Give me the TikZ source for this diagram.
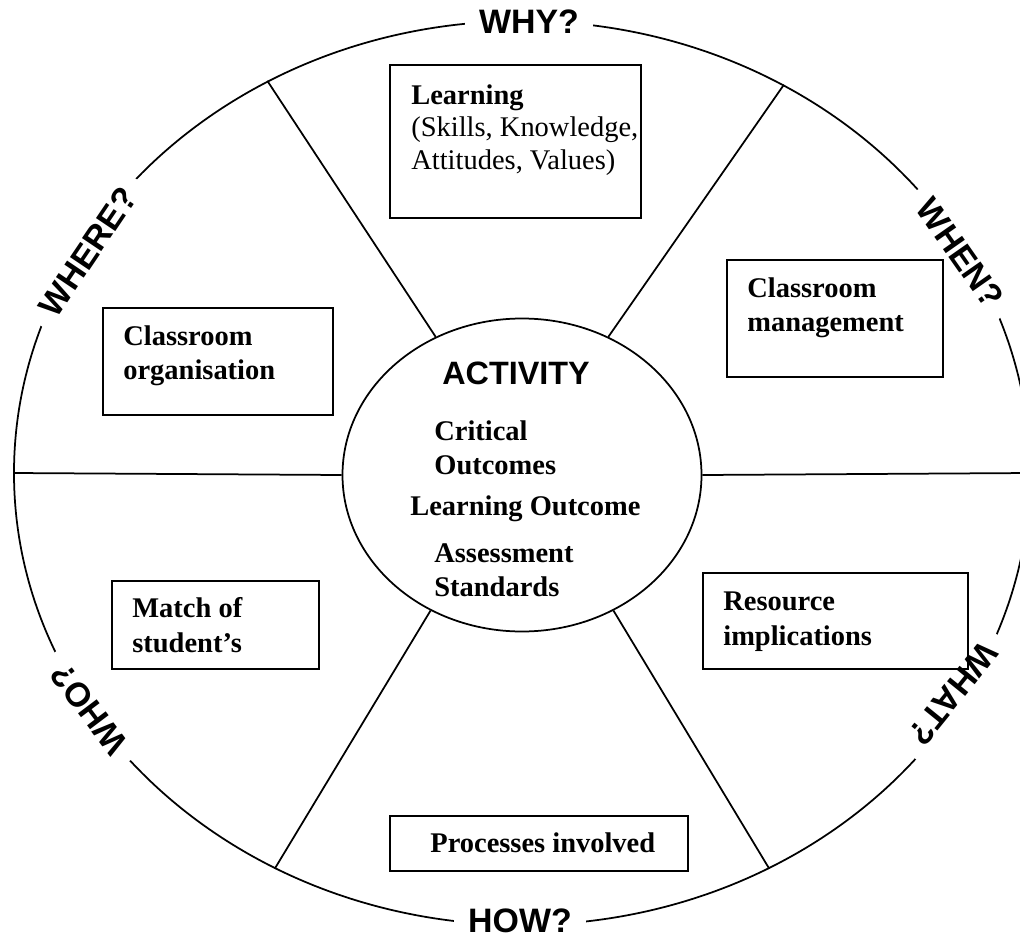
\documentclass[tikz,border=0pt]{standalone}
\usepackage{fontspec}
\setmainfont{Liberation Serif}
\newfontfamily\headfont{Liberation Sans}
\usetikzlibrary{shapes.geometric,positioning}

\begin{document}
\begin{tikzpicture}[
    x=0.2mm, y=-0.2mm,
    wheel/.style={ellipse,
        draw,
        line width=0.35mm,
        inner sep=0pt},
    spoke/.style={line width=0.35mm},
    question/.style={fill=white,
        inner xsep=2.8mm,
        inner ysep=0.6mm,
        font=\headfont\bfseries\fontsize{19.3}{22}\selectfont},
    frame/.style={rectangle,
        draw,
        line width=0.4mm,
        inner sep=0pt,
        anchor=north west},
    boxtext/.style={inner sep=0pt,
        align=left,
        font=\fontsize{16.2}{19.8}\selectfont\bfseries},
    ]
    \useasboundingbox (0,0) rectangle (1020,938);

    % rim and hub
    \node [wheel, minimum width=203.2mm, minimum height=180.8mm] (rim) at (522,473) {};
    \node [wheel, minimum width=71.8mm, minimum height=62.6mm] (hub) at (522,475) {};

    \draw[spoke] (hub.0) -- (rim.0);
    \draw[spoke] (hub.58) -- (rim.56);
    \draw[spoke] (hub.122) -- (rim.123);
    \draw[spoke] (hub.180) -- (rim.180);
    \draw[spoke] (hub.236) -- (rim.238);
    \draw[spoke] (hub.-56) -- (rim.-58);

    % questions sitting on the rim
    \node [question] (why) at (529,22) {WHY?};
    \node [question, rotate=-55] (when) at (960,253) {WHEN?};
    \node [question, rotate=-129] (what) at (953,694) {WHAT?};
    \node [question] (how) at (520,921) {HOW?};
    \node [question, rotate=127] (who) at (89,709) {WHO?};
    \node [question, rotate=56] (where) at (88,252) {WHERE?};

    % boxes in the sectors
    \node [frame, minimum width=50.2mm, minimum height=30.6mm] (learning) at (389,64) {};
    \node [frame, minimum width=43.2mm, minimum height=23.4mm] (management) at (726,259) {};
    \node [frame, minimum width=53mm, minimum height=19.2mm] (resources) at (702,572) {};
    \node [frame, minimum width=59.6mm, minimum height=11mm] (processes) at (389,815) {};
    \node [frame, minimum width=41.4mm, minimum height=17.6mm] (match) at (111,580) {};
    \node [frame, minimum width=46mm, minimum height=21.4mm] (organisation) at (102,307) {};

    \node [boxtext, font=\fontsize{16.2}{18.7}\selectfont,
        below right=4mm and 4.4mm of learning.north west] (learning text)
        {\textbf{Learning}\\(Skills, Knowledge,\\Attitudes, Values)};
    \node [boxtext, below right=3.6mm and 4.2mm of management.north west] (management text)
        {Classroom\\management};
    \node [boxtext, below right=4mm and 4.2mm of resources.north west] (resources text)
        {Resource\\implications};
    \node [boxtext, below right=3.4mm and 8.2mm of processes.north west] (processes text)
        {Processes involved};
    \node [boxtext, below right=3.4mm and 4.2mm of match.north west] (match text)
        {Match of\\student’s};
    \node [boxtext, below right=3.6mm and 4.2mm of organisation.north west] (organisation text)
        {Classroom\\organisation};

    % hub contents
    \node [font=\headfont\bfseries\fontsize{18.4}{22}\selectfont] (activity) at (516,373) {ACTIVITY};
    \node [boxtext, anchor=north west] (critical) at (434,420) {Critical\\Outcomes};
    \node [boxtext, anchor=north west] (outcome) at (410,495) {Learning Outcome};
    \node [boxtext, anchor=north west] (standards) at (434,543) {Assessment\\Standards};
\end{tikzpicture}
\end{document}
